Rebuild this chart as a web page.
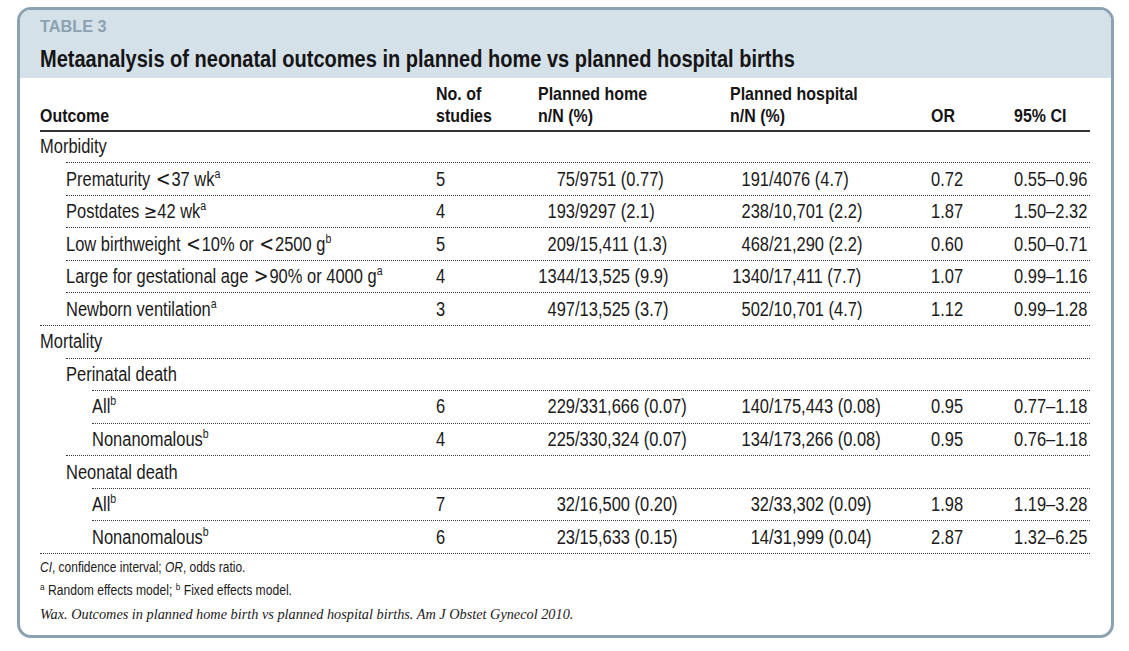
<!DOCTYPE html>
<html>
<head>
<meta charset="utf-8">
<script src="https://cdn.jsdelivr.net/npm/chart.js@4.4.1/dist/chart.umd.min.js"></script>
<style>
  html, body { margin: 0; padding: 0; background: #ffffff; }
  #page { position: relative; width: 1129px; height: 651px; overflow: hidden;
          font-family: "Liberation Sans", Arial, sans-serif; color: #1c1a1a; }
  #box { position: absolute; left: 17px; top: 7px; width: 1091px; height: 625px;
         border: 3px solid #8aa2b2; border-radius: 14px; overflow: hidden; background: #fff; }
  #band { position: absolute; left: 0; top: 0; right: 0; height: 68px; background: #d4e1e9; }
  .t { position: absolute; white-space: nowrap; line-height: 24px; height: 24px;
       transform-origin: 0 50%; }
  .body { font-size: 19.5px; transform: scaleX(0.845); }
  .hdr { font-size: 19px; font-weight: bold; transform: scaleX(0.84); color: #161414; }
  .r { text-align: right; transform-origin: 100% 50%; }
  .cmp { font-family: "DejaVu Sans", sans-serif; font-size: 21px; line-height: 0; margin: 0 1px; }
  .cmp.ge { font-size: 19px; margin: 0; }
  sup { font-size: 12.5px; line-height: 0; vertical-align: 0; position: relative; top: -8px; }
  sup.fs { font-size: 9.5px; top: -5px; }
  .rule { position: absolute; height: 0; }
  .dot { border-top: 1px dotted #3a3a3a; }
  .thick { border-top: 2px solid #333; }
</style>
</head>
<body>
<div id="page">
  <div id="box"><div id="band"></div></div>
  <div id="layer"></div>
</div>
<script>
// ---------- data ----------
const tableLabel = "TABLE 3";
const tableTitle = "Metaanalysis of neonatal outcomes in planned home vs planned hospital births";
const outcomes = ["Morbidity", "Prematurity <37 wk", "Postdates \u226542 wk", "Low birthweight <10% or <2500 g",
  "Large for gestational age >90% or 4000 g", "Newborn ventilation", "Mortality", "Perinatal death",
  "All", "Nonanomalous", "Neonatal death", "All", "Nonanomalous"];
const levels = [0, 1, 1, 1, 1, 1, 0, 1, 2, 2, 1, 2, 2];
const footMarks = ["", "a", "a", "b", "a", "a", "", "", "b", "b", "", "b", "b"];
const studies = [null, 5, 4, 5, 4, 3, null, null, 6, 4, null, 7, 6];
const homeEvents = [null, "75", "193", "209", "1344", "497", null, null, "229", "225", null, "32", "23"];
const homeTotals = [null, "9751", "9297", "15,411", "13,525", "13,525", null, null, "331,666", "330,324", null, "16,500", "15,633"];
const homePct = [null, "0.77", "2.1", "1.3", "9.9", "3.7", null, null, "0.07", "0.07", null, "0.20", "0.15"];
const hospEvents = [null, "191", "238", "468", "1340", "502", null, null, "140", "134", null, "32", "14"];
const hospTotals = [null, "4076", "10,701", "21,290", "17,411", "10,701", null, null, "175,443", "173,266", null, "33,302", "31,999"];
const hospPct = [null, "4.7", "2.2", "2.2", "7.7", "4.7", null, null, "0.08", "0.08", null, "0.09", "0.04"];
const oddsRatios = [null, "0.72", "1.87", "0.60", "1.07", "1.12", null, null, "0.95", "0.95", null, "1.98", "2.87"];
const ciLow = [null, "0.55", "1.50", "0.50", "0.99", "0.99", null, null, "0.77", "0.76", null, "1.19", "1.32"];
const ciHigh = [null, "0.96", "2.32", "0.71", "1.16", "1.28", null, null, "1.18", "1.18", null, "3.28", "6.25"];
const headers = ["Outcome", "No. of|studies", "Planned home|n/N (%)", "Planned hospital|n/N (%)", "OR", "95% CI"];
const footnote1 = "<i>CI</i>, confidence interval; <i>OR</i>, odds ratio.";
const footnote2 = "<sup class='fs'>a</sup> Random effects model; <sup class='fs'>b</sup> Fixed effects model.";
const citation = "Wax. Outcomes in planned home birth vs planned hospital births. Am J Obstet Gynecol 2010.";

// ---------- layout ----------
const L = document.getElementById('layer');
function el(cls, html, x, yc, extra) {
  const d = document.createElement('div');
  d.className = 't ' + cls;
  d.innerHTML = html;
  d.style.left = x + 'px';
  d.style.top = (yc - 12) + 'px';
  if (extra) Object.assign(d.style, extra);
  L.appendChild(d);
  return d;
}
// condense a text horizontally so it spans the given width
function fit(d, w) {
  const nat = d.scrollWidth;
  d.style.transform = 'scaleX(' + (w / nat) + ')';
}
function rule(cls, x1, x2, y) {
  const d = document.createElement('div');
  d.className = 'rule ' + cls;
  d.style.left = x1 + 'px'; d.style.width = (x2 - x1) + 'px'; d.style.top = y + 'px';
  L.appendChild(d);
}
function label(s) {
  return s.replace(/[&<>\u2265]/g, ch => {
    if (ch === '&') return '&amp;';
    if (ch === '<') return '<span class="cmp">&lt;</span>';
    if (ch === '>') return '<span class="cmp">&gt;</span>';
    return '<span class="cmp ge">\u2265</span>';
  });
}

fit(el('', tableLabel, 40, 27, { fontSize: '17px', fontWeight: 'bold', color: '#8ca2b1' }), 67);
fit(el('', tableTitle, 40, 59, { fontSize: '23px', fontWeight: 'bold', color: '#161414' }), 755);

const colX = [40, 436, 538, 730, 931, 1014];
headers.forEach((h, i) => {
  const parts = h.split('|');
  if (parts.length === 2) {
    el('hdr', parts[0], colX[i], 94);
    el('hdr', parts[1], colX[i], 116);
  } else {
    el('hdr', parts[0], colX[i], 116);
  }
});
rule('thick', 40, 1090, 130);

const indent = [40, 66, 92];
const y0 = 146, pitch = 32.55;
const homeSlash = 575, hospSlash = 769;
outcomes.forEach((name, i) => {
  const yc = y0 + i * pitch;
  const lx = indent[levels[i]];
  const html = label(name) + (footMarks[i] ? '<sup>' + footMarks[i] + '</sup>' : '');
  el('body', html, lx, yc);
  if (i > 0) rule('dot', lx, 1090, Math.round(yc - pitch / 2));
  if (studies[i] !== null) {
    el('body', String(studies[i]), 436, yc);
    el('body r', homeEvents[i], homeSlash - 100, yc, { width: '100px' });
    el('body', '/' + homeTotals[i] + ' (' + homePct[i] + ')', homeSlash, yc);
    el('body r', hospEvents[i], hospSlash - 100, yc, { width: '100px' });
    el('body', '/' + hospTotals[i] + ' (' + hospPct[i] + ')', hospSlash, yc);
    el('body', oddsRatios[i], 931, yc);
    el('body', ciLow[i] + '\u2013' + ciHigh[i], 1014, yc);
  }
});
rule('dot', 40, 1090, Math.round(y0 + (outcomes.length - 0.5) * pitch));

fit(el('', footnote1, 40, 567, { fontSize: '14px' }), 205);
fit(el('', footnote2, 40, 590, { fontSize: '14px' }), 252);
fit(el('', citation, 40, 614, { fontSize: '15px', fontStyle: 'italic', fontFamily: '"Liberation Serif", "DejaVu Serif", serif' }), 533);
</script>
</body>
</html>
